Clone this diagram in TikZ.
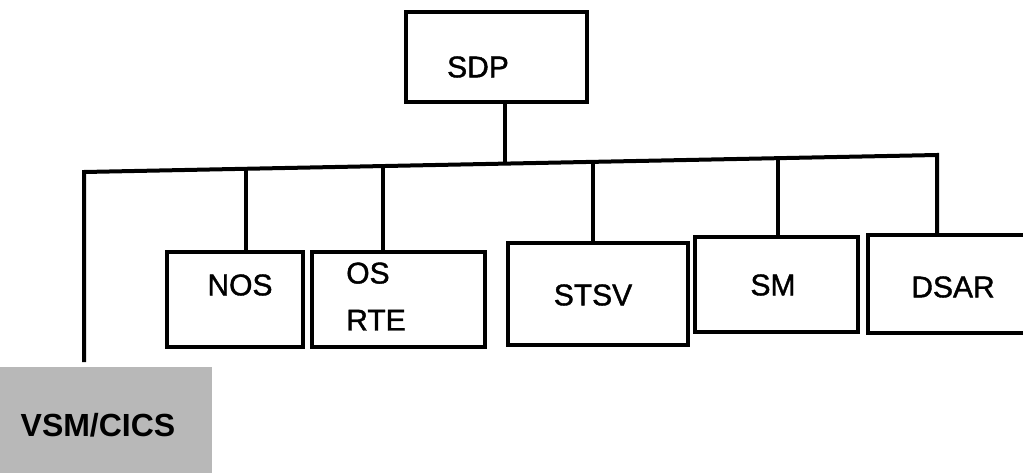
\documentclass[tikz,border=0pt]{standalone}
\usepackage{fontspec}
\setmainfont{Liberation Sans}
\newfontfamily\heavyfont[FakeBold=1.3]{Liberation Sans}
\begin{document}
\tikzset{
  box/.style={draw, line width=4pt, rectangle, inner sep=0pt},
  lbl/.style={font=\heavyfont\fontsize{30}{47}\selectfont, inner sep=0pt},
  wire/.style={line width=4pt, line join=miter},
  shade/.style={fill=black!28, inner sep=0pt}
}
\begin{tikzpicture}[x=1pt,y=-1pt]
\useasboundingbox (0,0) rectangle (1023,472);
% boxes
\node[box, minimum width=181pt, minimum height=90pt,
      label={[lbl,xshift=-18.5pt,yshift=-10pt]center:SDP}] (sdp) at (496.5,57) {};
\node[box, minimum width=136pt, minimum height=95pt,
      label={[lbl,xshift=5pt,yshift=14.5pt]center:NOS}] (nos) at (235,299.5) {};
\node[box, minimum width=173pt, minimum height=95pt,
      label={[lbl,align=left,xshift=-22.5pt,yshift=3pt]center:OS\\RTE}] (osrte) at (398.5,299.5) {};
\node[box, minimum width=180pt, minimum height=102pt,
      label={[lbl,xshift=-5pt,yshift=-1pt]center:STSV}] (stsv) at (598,294) {};
\node[box, minimum width=163pt, minimum height=95pt,
      label={[lbl,xshift=-3.5pt,yshift=-0.5pt]center:SM}] (sm) at (776.5,284.5) {};
\node[box, minimum width=168pt, minimum height=98pt,
      label={[lbl,xshift=1pt,yshift=-3pt]center:DSAR}] (dsar) at (952,284) {};
\node[shade, minimum width=222pt, minimum height=110pt,
      label={[lbl,font=\fontsize{32}{36}\selectfont\bfseries,xshift=-3pt,yshift=-3pt]center:VSM/CICS}] (vsm) at (101,422) {};
% bus coordinates
\coordinate (busL) at (84,172);
\coordinate (busR) at (937,155);
\coordinate (vEnd) at (84,362);
\coordinate (jsdp) at (505,163.6);
\coordinate (jnos) at (246,168.8);
\coordinate (jos) at (383,166);
\coordinate (jstsv) at (593,161.9);
\coordinate (jsm) at (778,158.2);
% connectors
\draw[wire] (vEnd) -- (busL) -- (busR) -- (busR |- dsar.north);
\draw[wire] (sdp.south -| jsdp) -- (jsdp);
\draw[wire] (jnos) -- (jnos |- nos.north);
\draw[wire] (jos) -- (jos |- osrte.north);
\draw[wire] (jstsv) -- (jstsv |- stsv.north);
\draw[wire] (jsm) -- (jsm |- sm.north);
\end{tikzpicture}
\end{document}
